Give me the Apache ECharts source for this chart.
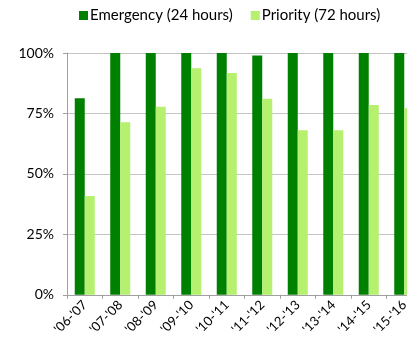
<!DOCTYPE html>
<html>
<head>
<meta charset="utf-8">
<script src="https://cdn.jsdelivr.net/npm/echarts@6/dist/echarts.min.js"></script>
<style>
  html, body { margin: 0; padding: 0; background: #fff; overflow: hidden; width: 407px; height: 338px; }
  /* canvas is wider than the window so the last column is cut off at the right edge */
  #chart { width: 430px; height: 338px; }
</style>
</head>
<body>
<div id="chart"></div>
<script>
// Share of repairs completed on time, by financial year
const years = ["'06-'07", "'07-'08", "'08-'09", "'09-'10", "'10-'11", "'11-'12", "'12-'13", "'13-'14", "'14-'15", "'15-'16"];
const emergency = [81.3, 100, 100, 100, 100, 99.0, 100, 100, 100, 100];
const priority = [40.9, 71.4, 77.8, 93.7, 91.7, 81.1, 68.0, 68.0, 78.5, 77.1];
const yTicks = [0, 25, 50, 75, 100];

const FONT = 'Lato, "Open Sans", sans-serif';
const chart = echarts.init(document.getElementById('chart'), null, { renderer: 'canvas' });

chart.setOption({
  animation: false,
  textStyle: { fontFamily: FONT },
  legend: {
    top: 8,
    left: 79,
    padding: 0,
    itemWidth: 9,
    itemHeight: 9,
    itemGap: 18,
    icon: 'rect',
    textStyle: { fontFamily: FONT, fontSize: 15, color: '#000', padding: [0, 0, 0, -3] },
    data: ['Emergency (24 hours)', 'Priority (72 hours)']
  },
  grid: { left: 67, width: 355, top: 53, bottom: 43, containLabel: false },
  xAxis: {
    type: 'category',
    data: years,
    axisLine: { lineStyle: { color: '#a0a0a0', width: 1 } },
    axisTick: { show: true, length: 4, lineStyle: { color: '#a0a0a0' } },
    axisLabel: { rotate: 45, fontSize: 13, color: '#000', fontFamily: FONT, margin: 8, interval: 0 }
  },
  yAxis: {
    type: 'value',
    min: yTicks[0],
    max: yTicks[yTicks.length - 1],
    interval: 25,
    axisLine: { show: true, lineStyle: { color: '#a0a0a0', width: 1 } },
    axisTick: { show: true, length: 4, lineStyle: { color: '#a0a0a0' } },
    splitLine: { lineStyle: { color: '#c4c4c4', width: 1 } },
    axisLabel: { fontSize: 14, color: '#000', fontFamily: FONT, margin: 13, formatter: v => v + '%' }
  },
  series: [
    {
      name: 'Emergency (24 hours)',
      type: 'bar',
      data: emergency,
      barWidth: 10,
      barGap: '0%',
      itemStyle: { color: '#008000' }
    },
    {
      name: 'Priority (72 hours)',
      type: 'bar',
      data: priority,
      barWidth: 10,
      itemStyle: { color: '#b5f06f' }
    }
  ]
});
</script>
</body>
</html>
